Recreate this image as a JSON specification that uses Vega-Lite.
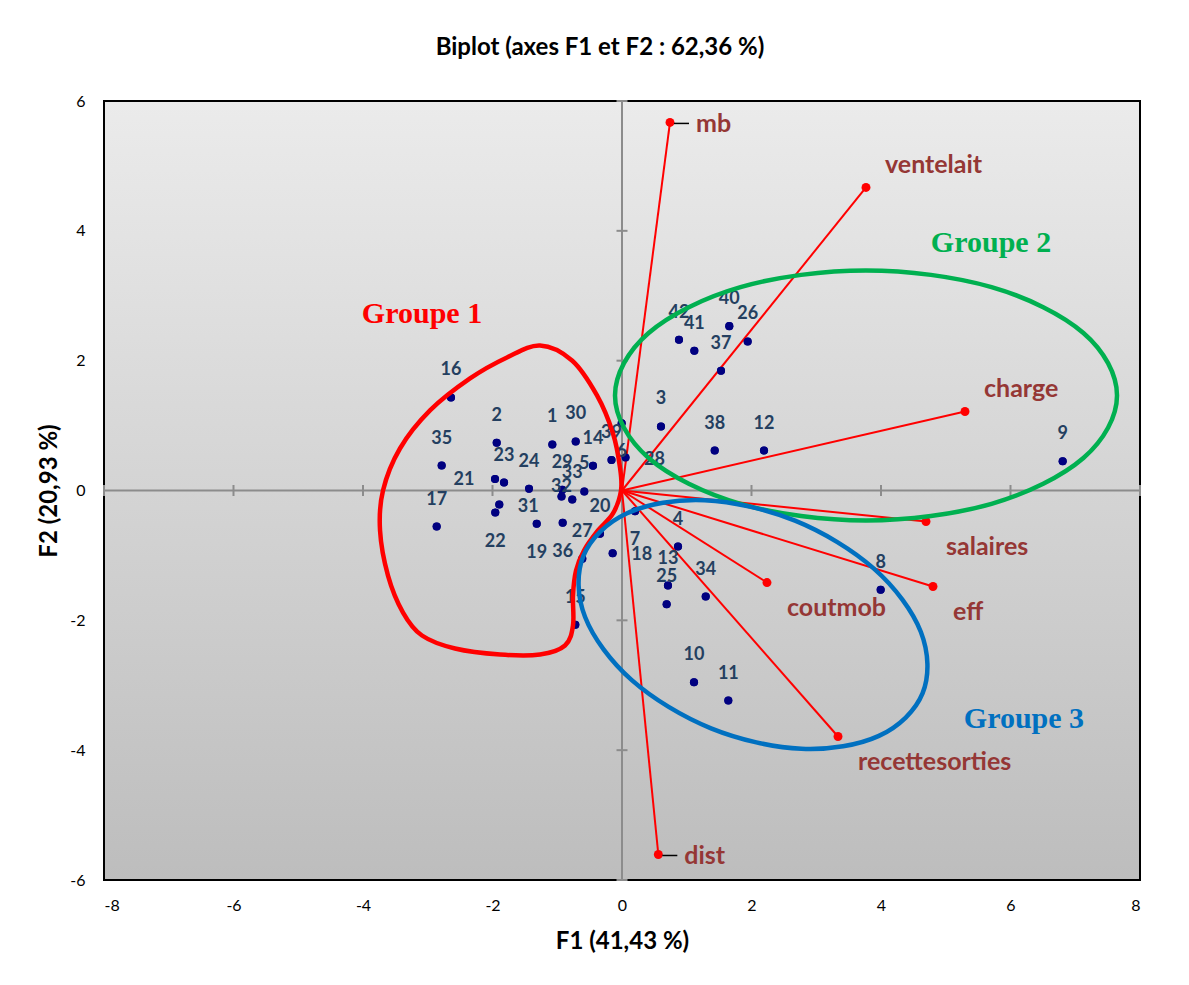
{
  "$schema": "https://vega.github.io/schema/vega-lite/v6.json",
  "width": 1036,
  "height": 779,
  "autosize": {"type": "none"},
  "padding": {"left": 104, "top": 101, "right": 49, "bottom": 105},
  "background": "white",
  "title": {
    "text": "Biplot (axes F1 et F2 : 62,36 %)",
    "font": "Lato",
    "fontSize": 24,
    "fontWeight": "bold",
    "color": "#000000",
    "anchor": "middle",
    "dx": -22,
    "offset": 33
  },
  "config": {
    "view": {
      "stroke": "#000000",
      "strokeWidth": 2,
      "fill": {
        "gradient": "linear",
        "x1": 0, "y1": 0, "x2": 0, "y2": 1,
        "stops": [
          {"offset": 0, "color": "#ebebeb"},
          {"offset": 1, "color": "#bdbdbd"}
        ]
      }
    },
    "axis": {
      "labelFont": "Lato",
      "labelFontSize": 16,
      "labelColor": "#000000",
      "titleFont": "Lato",
      "titleFontSize": 24,
      "titleFontWeight": "bold",
      "titleColor": "#000000",
      "grid": false,
      "domain": false,
      "ticks": false
    }
  },
  "datasets": {
    "obs": [
      {"id": "1", "x": -1.076, "y": 0.709},
      {"id": "2", "x": -1.935, "y": 0.735},
      {"id": "3", "x": 0.602, "y": 0.986},
      {"id": "4", "x": 0.865, "y": -0.863},
      {"id": "5", "x": -0.582, "y": -0.015},
      {"id": "6", "x": -0.005, "y": 1.037},
      {"id": "7", "x": 0.201, "y": -0.319},
      {"id": "8", "x": 3.995, "y": -1.53},
      {"id": "9", "x": 6.806, "y": 0.451},
      {"id": "10", "x": 1.112, "y": -2.954},
      {"id": "11", "x": 1.642, "y": -3.236},
      {"id": "12", "x": 2.193, "y": 0.616},
      {"id": "13", "x": 0.71, "y": -1.464},
      {"id": "14", "x": -0.448, "y": 0.381},
      {"id": "15", "x": -0.721, "y": -2.069},
      {"id": "16", "x": -2.641, "y": 1.433},
      {"id": "17", "x": -2.862, "y": -0.555},
      {"id": "18", "x": -0.144, "y": -0.966},
      {"id": "19", "x": -1.317, "y": -0.513},
      {"id": "20", "x": -0.34, "y": -0.667},
      {"id": "21", "x": -1.961, "y": 0.177},
      {"id": "22", "x": -1.957, "y": -0.339},
      {"id": "23", "x": -1.822, "y": 0.123},
      {"id": "24", "x": -1.436, "y": 0.026},
      {"id": "25", "x": 0.69, "y": -1.752},
      {"id": "26", "x": 1.941, "y": 2.296},
      {"id": "27", "x": -0.613, "y": -1.052},
      {"id": "28", "x": 0.054, "y": 0.508},
      {"id": "29", "x": -0.922, "y": 0.011},
      {"id": "30", "x": -0.715, "y": 0.755},
      {"id": "31", "x": -1.895, "y": -0.216},
      {"id": "32", "x": -0.934, "y": -0.092},
      {"id": "33", "x": -0.768, "y": -0.139},
      {"id": "34", "x": 1.293, "y": -1.633},
      {"id": "35", "x": -2.785, "y": 0.385},
      {"id": "36", "x": -0.916, "y": -0.498},
      {"id": "37", "x": 1.529, "y": 1.844},
      {"id": "38", "x": 1.432, "y": 0.616},
      {"id": "39", "x": -0.162, "y": 0.47},
      {"id": "40", "x": 1.657, "y": 2.532},
      {"id": "41", "x": 1.117, "y": 2.153},
      {"id": "42", "x": 0.88, "y": 2.322}
    ],
    "vars": [
      {"name": "mb", "x": 0.741, "y": 5.67},
      {"name": "ventelait", "x": 3.768, "y": 4.669},
      {"name": "charge", "x": 5.297, "y": 1.217},
      {"name": "salaires", "x": 4.695, "y": -0.478},
      {"name": "eff", "x": 4.803, "y": -1.479},
      {"name": "coutmob", "x": 2.239, "y": -1.418},
      {"name": "recettesorties", "x": 3.336, "y": -3.79},
      {"name": "dist", "x": 0.561, "y": -5.607}
    ],
    "xticks": [
      {"v": -8}, {"v": -6}, {"v": -4}, {"v": -2}, {"v": 2}, {"v": 4}, {"v": 6}, {"v": 8}
    ],
    "yticks": [
      {"v": -6}, {"v": -4}, {"v": -2}, {"v": 2}, {"v": 4}, {"v": 6}
    ],
    "curves": [
      {"g": "Groupe 1", "i": 1, "x": -1.266, "y": 2.234},
      {"g": "Groupe 1", "i": 2, "x": -0.772, "y": 2.003},
      {"g": "Groupe 1", "i": 3, "x": -0.386, "y": 1.464},
      {"g": "Groupe 1", "i": 4, "x": -0.139, "y": 0.878},
      {"g": "Groupe 1", "i": 5, "x": -0.031, "y": 0.354},
      {"g": "Groupe 1", "i": 6, "x": -0.015, "y": 0.0},
      {"g": "Groupe 1", "i": 7, "x": -0.139, "y": -0.354},
      {"g": "Groupe 1", "i": 8, "x": -0.371, "y": -0.616},
      {"g": "Groupe 1", "i": 9, "x": -0.587, "y": -0.924},
      {"g": "Groupe 1", "i": 10, "x": -0.71, "y": -1.233},
      {"g": "Groupe 1", "i": 11, "x": -0.757, "y": -1.618},
      {"g": "Groupe 1", "i": 12, "x": -0.757, "y": -2.08},
      {"g": "Groupe 1", "i": 13, "x": -0.88, "y": -2.388},
      {"g": "Groupe 1", "i": 14, "x": -1.266, "y": -2.527},
      {"g": "Groupe 1", "i": 15, "x": -1.884, "y": -2.527},
      {"g": "Groupe 1", "i": 16, "x": -2.579, "y": -2.434},
      {"g": "Groupe 1", "i": 17, "x": -3.089, "y": -2.234},
      {"g": "Groupe 1", "i": 18, "x": -3.382, "y": -1.88},
      {"g": "Groupe 1", "i": 19, "x": -3.614, "y": -1.31},
      {"g": "Groupe 1", "i": 20, "x": -3.737, "y": -0.616},
      {"g": "Groupe 1", "i": 21, "x": -3.691, "y": 0.0},
      {"g": "Groupe 1", "i": 22, "x": -3.429, "y": 0.647},
      {"g": "Groupe 1", "i": 23, "x": -2.965, "y": 1.233},
      {"g": "Groupe 1", "i": 24, "x": -2.347, "y": 1.726},
      {"g": "Groupe 1", "i": 25, "x": -1.776, "y": 2.049},
      {"g": "Groupe 2", "i": 1, "x": 7.645, "y": 1.464},
      {"g": "Groupe 2", "i": 2, "x": 7.126, "y": 2.427},
      {"g": "Groupe 2", "i": 3, "x": 5.707, "y": 3.133},
      {"g": "Groupe 2", "i": 4, "x": 3.768, "y": 3.39},
      {"g": "Groupe 2", "i": 5, "x": 1.83, "y": 3.133},
      {"g": "Groupe 2", "i": 6, "x": 0.411, "y": 2.427},
      {"g": "Groupe 2", "i": 7, "x": -0.108, "y": 1.464},
      {"g": "Groupe 2", "i": 8, "x": 0.411, "y": 0.501},
      {"g": "Groupe 2", "i": 9, "x": 1.83, "y": -0.205},
      {"g": "Groupe 2", "i": 10, "x": 3.768, "y": -0.462},
      {"g": "Groupe 2", "i": 11, "x": 5.707, "y": -0.205},
      {"g": "Groupe 2", "i": 12, "x": 7.126, "y": 0.501},
      {"g": "Groupe 3", "i": 1, "x": 4.643, "y": -3.122},
      {"g": "Groupe 3", "i": 2, "x": 3.968, "y": -3.78},
      {"g": "Groupe 3", "i": 3, "x": 2.771, "y": -3.979},
      {"g": "Groupe 3", "i": 4, "x": 1.375, "y": -3.664},
      {"g": "Groupe 3", "i": 5, "x": 0.151, "y": -2.922},
      {"g": "Groupe 3", "i": 6, "x": -0.57, "y": -1.949},
      {"g": "Groupe 3", "i": 7, "x": -0.596, "y": -1.008},
      {"g": "Groupe 3", "i": 8, "x": 0.079, "y": -0.35},
      {"g": "Groupe 3", "i": 9, "x": 1.276, "y": -0.151},
      {"g": "Groupe 3", "i": 10, "x": 2.672, "y": -0.465},
      {"g": "Groupe 3", "i": 11, "x": 3.895, "y": -1.208},
      {"g": "Groupe 3", "i": 12, "x": 4.616, "y": -2.18}
    ],
    "groups": [
      {"g": "Groupe 1", "x": -3.089, "y": 2.712},
      {"g": "Groupe 2", "x": 5.699, "y": 3.806},
      {"g": "Groupe 3", "x": 6.208, "y": -3.513}
    ]
  },
  "layer": [
    {
      "data": {"name": "obs"},
      "mark": {"type": "point", "filled": true, "color": "#000080", "size": 65, "opacity": 1},
      "encoding": {
        "x": {
          "field": "x",
          "type": "quantitative",
          "scale": {"domain": [-8, 8], "nice": false, "zero": false},
          "axis": {
            "values": [-8, -6, -4, -2, 0, 2, 4, 6, 8],
            "labelExpr": "'' + datum.value",
            "labelPadding": 17,
            "title": "F1 (41,43 %)",
            "titlePadding": 16
          }
        },
        "y": {
          "field": "y",
          "type": "quantitative",
          "scale": {"domain": [-6, 6], "nice": false, "zero": false},
          "axis": {
            "values": [-6, -4, -2, 0, 2, 4, 6],
            "labelExpr": "'' + datum.value",
            "labelPadding": 19,
            "title": "F2 (20,93 %)",
            "titlePadding": 8
          }
        }
      }
    },
    {
      "data": {"values": [{}]},
      "mark": {"type": "rule", "color": "#8c8c8c", "strokeWidth": 2},
      "encoding": {"x": {"datum": 0, "type": "quantitative"}}
    },
    {
      "data": {"values": [{}]},
      "mark": {"type": "rule", "color": "#8c8c8c", "strokeWidth": 2},
      "encoding": {"y": {"datum": 0, "type": "quantitative"}}
    },
    {
      "data": {"name": "xticks"},
      "mark": {"type": "rule", "color": "#8c8c8c", "strokeWidth": 2, "yOffset": -5.5, "y2Offset": 5.5},
      "encoding": {
        "x": {"field": "v", "type": "quantitative"},
        "y": {"datum": 0, "type": "quantitative"},
        "y2": {"datum": 0}
      }
    },
    {
      "data": {"name": "yticks"},
      "mark": {"type": "rule", "color": "#8c8c8c", "strokeWidth": 2, "xOffset": -5.5, "x2Offset": 5.5},
      "encoding": {
        "y": {"field": "v", "type": "quantitative"},
        "x": {"datum": 0, "type": "quantitative"},
        "x2": {"datum": 0}
      }
    },
    {
      "data": {"name": "vars"},
      "mark": {"type": "rule", "color": "#ff0000", "strokeWidth": 2},
      "encoding": {
        "x": {"field": "x", "type": "quantitative"},
        "y": {"field": "y", "type": "quantitative"},
        "x2": {"datum": 0},
        "y2": {"datum": 0}
      }
    },
    {
      "data": {"name": "vars"},
      "mark": {"type": "point", "filled": true, "color": "#ff0000", "size": 80, "opacity": 1},
      "encoding": {
        "x": {"field": "x", "type": "quantitative"},
        "y": {"field": "y", "type": "quantitative"}
      }
    },
    {
      "data": {"name": "vars"},
      "transform": [{"filter": {"field": "name", "oneOf": ["mb", "dist"]}}],
      "mark": {"type": "rule", "color": "#000000", "strokeWidth": 1.5, "xOffset": 4, "x2Offset": 19, "yOffset": 1},
      "encoding": {
        "x": {"field": "x", "type": "quantitative"},
        "x2": {"field": "x"},
        "y": {"field": "y", "type": "quantitative"}
      }
    },
    {
      "data": {"name": "vars"},
      "transform": [{"filter": {"field": "name", "oneOf": ["salaires", "eff", "coutmob", "recettesorties"]}}],
      "mark": {"type": "text", "font": "Lato", "fontSize": 25, "fontWeight": "bold", "color": "#953735", "align": "left", "baseline": "middle", "dx": 20, "dy": 25},
      "encoding": {
        "x": {"field": "x", "type": "quantitative"},
        "y": {"field": "y", "type": "quantitative"},
        "text": {"field": "name"}
      }
    },
    {
      "data": {"name": "vars"},
      "transform": [{"filter": {"field": "name", "oneOf": ["ventelait", "charge"]}}],
      "mark": {"type": "text", "font": "Lato", "fontSize": 25, "fontWeight": "bold", "color": "#953735", "align": "left", "baseline": "middle", "dx": 19, "dy": -22},
      "encoding": {
        "x": {"field": "x", "type": "quantitative"},
        "y": {"field": "y", "type": "quantitative"},
        "text": {"field": "name"}
      }
    },
    {
      "data": {"name": "vars"},
      "transform": [{"filter": {"field": "name", "oneOf": ["mb", "dist"]}}],
      "mark": {"type": "text", "font": "Lato", "fontSize": 25, "fontWeight": "bold", "color": "#953735", "align": "left", "baseline": "middle", "dx": 26, "dy": 2},
      "encoding": {
        "x": {"field": "x", "type": "quantitative"},
        "y": {"field": "y", "type": "quantitative"},
        "text": {"field": "name"}
      }
    },
    {
      "data": {"name": "obs"},
      "mark": {"type": "point", "filled": true, "color": "#000080", "size": 65, "opacity": 1},
      "encoding": {
        "x": {"field": "x", "type": "quantitative"},
        "y": {"field": "y", "type": "quantitative"}
      }
    },
    {
      "data": {"name": "obs"},
      "transform": [{"filter": {"not": {"field": "id", "oneOf": ["22", "19", "36", "7", "6", "21", "31", "28", "18", "32"]}}}],
      "mark": {"type": "text", "font": "Lato", "fontSize": 18, "fontWeight": "bold", "color": "#243f60", "align": "center", "baseline": "middle", "dy": -27},
      "encoding": {
        "x": {"field": "x", "type": "quantitative"},
        "y": {"field": "y", "type": "quantitative"},
        "text": {"field": "id"}
      }
    },
    {
      "data": {"name": "obs"},
      "transform": [{"filter": {"field": "id", "oneOf": ["22", "19", "36", "7", "6"]}}],
      "mark": {"type": "text", "font": "Lato", "fontSize": 18, "fontWeight": "bold", "color": "#243f60", "align": "center", "baseline": "middle", "dy": 29},
      "encoding": {
        "x": {"field": "x", "type": "quantitative"},
        "y": {"field": "y", "type": "quantitative"},
        "text": {"field": "id"}
      }
    },
    {
      "data": {"name": "obs"},
      "transform": [{"filter": {"field": "id", "oneOf": ["21"]}}],
      "mark": {"type": "text", "font": "Lato", "fontSize": 18, "fontWeight": "bold", "color": "#243f60", "align": "center", "baseline": "middle", "dx": -31, "dy": 1},
      "encoding": {
        "x": {"field": "x", "type": "quantitative"},
        "y": {"field": "y", "type": "quantitative"},
        "text": {"field": "id"}
      }
    },
    {
      "data": {"name": "obs"},
      "transform": [{"filter": {"field": "id", "oneOf": ["31", "28", "18"]}}],
      "mark": {"type": "text", "font": "Lato", "fontSize": 18, "fontWeight": "bold", "color": "#243f60", "align": "center", "baseline": "middle", "dx": 29, "dy": 2},
      "encoding": {
        "x": {"field": "x", "type": "quantitative"},
        "y": {"field": "y", "type": "quantitative"},
        "text": {"field": "id"}
      }
    },
    {
      "data": {"name": "obs"},
      "transform": [{"filter": {"field": "id", "oneOf": ["32"]}}],
      "mark": {"type": "text", "font": "Lato", "fontSize": 18, "fontWeight": "bold", "color": "#243f60", "align": "center", "baseline": "middle", "dy": -9},
      "encoding": {
        "x": {"field": "x", "type": "quantitative"},
        "y": {"field": "y", "type": "quantitative"},
        "text": {"field": "id"}
      }
    },
    {
      "data": {"name": "curves"},
      "mark": {"type": "line", "interpolate": "cardinal-closed", "strokeWidth": 4.5},
      "encoding": {
        "x": {"field": "x", "type": "quantitative"},
        "y": {"field": "y", "type": "quantitative"},
        "order": {"field": "i", "type": "quantitative"},
        "color": {
          "field": "g",
          "type": "nominal",
          "scale": {"domain": ["Groupe 1", "Groupe 2", "Groupe 3"], "range": ["#ff0000", "#00b050", "#0070c0"]},
          "legend": null
        }
      }
    },
    {
      "data": {"name": "groups"},
      "mark": {"type": "text", "font": "Liberation Serif", "fontSize": 30, "fontWeight": "bold", "align": "center", "baseline": "middle"},
      "encoding": {
        "x": {"field": "x", "type": "quantitative"},
        "y": {"field": "y", "type": "quantitative"},
        "text": {"field": "g"},
        "color": {"field": "g", "type": "nominal", "legend": null}
      }
    }
  ]
}
